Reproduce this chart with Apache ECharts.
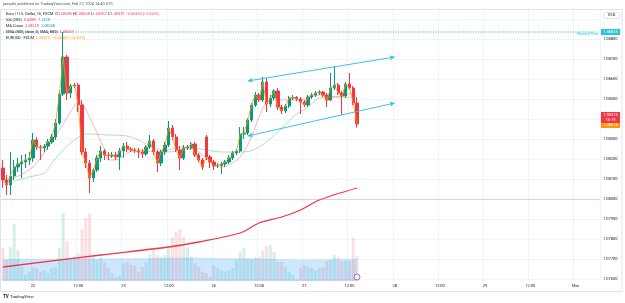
<!DOCTYPE html>
<html>
<head>
<meta charset="utf-8">
<script src="https://cdn.jsdelivr.net/npm/echarts@6/dist/echarts.min.js"></script>
<style>
html, body { margin: 0; padding: 0; background: #fff; }
#chart { width: 625px; height: 303px; }
</style>
</head>
<body>
<div id="chart"></div>
<script>
// hourly EURUSD bars, Feb 21 16:00 .. Feb 27 14:00 (weekend skipped)
const opens = [
  1.08155, 1.08095, 1.08070, 1.08115, 1.08160, 1.08175, 1.08185, 1.08195, 1.08205, 1.08295,
  1.08260, 1.08255, 1.08265, 1.08285, 1.08310, 1.08380, 1.08525, 1.08710, 1.08530, 1.08565,
  1.08570, 1.08470, 1.08235, 1.08180, 1.08105, 1.08145, 1.08205, 1.08240, 1.08220, 1.08215,
  1.08220, 1.08210, 1.08240, 1.08265, 1.08250, 1.08245, 1.08240, 1.08235, 1.08225, 1.08260,
  1.08290, 1.08235, 1.08180, 1.08235, 1.08270, 1.08355, 1.08310, 1.08245, 1.08205, 1.08255,
  1.08255, 1.08275, 1.08220, 1.08195, 1.08310, 1.08210, 1.08185, 1.08165, 1.08168, 1.08175,
  1.08185, 1.08205, 1.08230, 1.08240, 1.08325, 1.08330, 1.08395, 1.08470, 1.08520, 1.08495,
  1.08585, 1.08475, 1.08505, 1.08540, 1.08460, 1.08440, 1.08465, 1.08505, 1.08508, 1.08500,
  1.08485, 1.08470, 1.08510, 1.08520, 1.08530, 1.08535, 1.08520, 1.08495, 1.08555, 1.08570,
  1.08530, 1.08515, 1.08575, 1.08555, 1.08480
];
const closes = [
  1.08095, 1.08070, 1.08115, 1.08160, 1.08175, 1.08185, 1.08195, 1.08205, 1.08295, 1.08260,
  1.08255, 1.08265, 1.08285, 1.08310, 1.08380, 1.08525, 1.08710, 1.08530, 1.08565, 1.08570,
  1.08470, 1.08235, 1.08180, 1.08105, 1.08145, 1.08205, 1.08240, 1.08220, 1.08215, 1.08220,
  1.08210, 1.08240, 1.08265, 1.08250, 1.08245, 1.08240, 1.08235, 1.08225, 1.08260, 1.08290,
  1.08235, 1.08180, 1.08235, 1.08270, 1.08355, 1.08310, 1.08245, 1.08205, 1.08255, 1.08260,
  1.08275, 1.08220, 1.08195, 1.08160, 1.08210, 1.08185, 1.08165, 1.08168, 1.08175, 1.08185,
  1.08205, 1.08230, 1.08240, 1.08325, 1.08330, 1.08395, 1.08470, 1.08520, 1.08495, 1.08585,
  1.08475, 1.08505, 1.08540, 1.08460, 1.08440, 1.08465, 1.08505, 1.08508, 1.08500, 1.08485,
  1.08470, 1.08510, 1.08520, 1.08530, 1.08535, 1.08520, 1.08495, 1.08555, 1.08570, 1.08530,
  1.08515, 1.08575, 1.08555, 1.08480, 1.08375
];
const lows = [
  1.08055, 1.08020, 1.08020, 1.08095, 1.08135, 1.08105, 1.08155, 1.08170, 1.08185, 1.08245,
  1.08195, 1.08235, 1.08245, 1.08275, 1.08295, 1.08370, 1.08515, 1.08495, 1.08505, 1.08555,
  1.08435, 1.08220, 1.08155, 1.08030, 1.08085, 1.08135, 1.08185, 1.08195, 1.08195, 1.08205,
  1.08195, 1.08145, 1.08205, 1.08235, 1.08235, 1.08230, 1.08205, 1.08205, 1.08215, 1.08250,
  1.08220, 1.08135, 1.08165, 1.08220, 1.08260, 1.08295, 1.08235, 1.08145, 1.08195, 1.08245,
  1.08245, 1.08210, 1.08185, 1.08145, 1.08195, 1.08155, 1.08145, 1.08155, 1.08125, 1.08160,
  1.08175, 1.08195, 1.08220, 1.08230, 1.08300, 1.08320, 1.08385, 1.08460, 1.08485, 1.08485,
  1.08435, 1.08460, 1.08495, 1.08445, 1.08425, 1.08430, 1.08455, 1.08495, 1.08490, 1.08425,
  1.08460, 1.08460, 1.08500, 1.08510, 1.08520, 1.08510, 1.08460, 1.08490, 1.08545, 1.08520,
  1.08420, 1.08505, 1.08545, 1.08470, 1.08357
];
const highs = [
  1.08195, 1.08120, 1.08235, 1.08195, 1.08205, 1.08220, 1.08225, 1.08235, 1.08330, 1.08310,
  1.08270, 1.08275, 1.08300, 1.08325, 1.08400, 1.08545, 1.08835, 1.08720, 1.08575, 1.08580,
  1.08580, 1.08495, 1.08255, 1.08195, 1.08155, 1.08220, 1.08265, 1.08250, 1.08235, 1.08235,
  1.08235, 1.08255, 1.08280, 1.08285, 1.08260, 1.08255, 1.08255, 1.08250, 1.08270, 1.08320,
  1.08300, 1.08245, 1.08245, 1.08285, 1.08390, 1.08370, 1.08325, 1.08265, 1.08270, 1.08270,
  1.08285, 1.08285, 1.08230, 1.08205, 1.08320, 1.08220, 1.08195, 1.08180, 1.08185, 1.08195,
  1.08220, 1.08240, 1.08250, 1.08360, 1.08360, 1.08405, 1.08480, 1.08535, 1.08530, 1.08610,
  1.08605, 1.08520, 1.08550, 1.08555, 1.08470, 1.08475, 1.08515, 1.08520, 1.08515, 1.08510,
  1.08495, 1.08520, 1.08530, 1.08540, 1.08545, 1.08540, 1.08530, 1.08630, 1.08665, 1.08580,
  1.08540, 1.08585, 1.08630, 1.08565, 1.08509
];
// volume in thousands
const volumesK = [
  10.7, 6.8, 11, 18.5, 10, 4.5, 2, 3, 4.5, 4.2,
  3, 3.5, 2.6, 4.2, 4.5, 10.7, 22, 13, 6.8, 7.8,
  9, 16.8, 20.4, 21.7, 8.4, 6.8, 7.8, 6.2, 4.2, 2.6,
  1.3, 1.9, 5.8, 6.2, 5.2, 4.9, 3, 4.5, 6.2, 8.7,
  10.3, 8.4, 7.8, 8.4, 11, 14.2, 16, 16.8, 14.3, 11,
  7.8, 5.8, 4.5, 3, 2.6, 1.3, 5.2, 4.2, 3.5, 3,
  3.5, 4.2, 6.8, 9.4, 10.7, 7.4, 7.1, 7.8, 7.8, 10,
  11.3, 11.7, 9.4, 6.2, 6.2, 4.5, 3, 1.9, 0.5, 4.2,
  5.2, 4.5, 4.2, 3.5, 4.2, 4.5, 6.5, 6.8, 8.4, 7.8,
  6.5, 6.8, 6.5, 14, 8
];
// indicator lines, read at a few bars: [bar index, value]
const volMaK = [[0, 7.1], [30, 7.3], [50, 7.6], [65, 7.3], [80, 7.0], [94, 7.13]];
const fastMa = [[1, 1.0810], [3, 1.08105], [8, 1.0816], [12, 1.0826], [15, 1.08345], [18, 1.08435], [20, 1.08485],
  [21, 1.0848], [23, 1.0841], [25, 1.0833], [27, 1.08245], [28, 1.08195], [30, 1.08195], [33, 1.0823],
  [36, 1.08245], [41, 1.08235], [44, 1.08245], [47, 1.0826], [50, 1.0826], [53, 1.0822], [58, 1.0816],
  [60, 1.0817], [63, 1.0821], [66, 1.0831], [68, 1.0841], [70, 1.0848], [74, 1.08495], [79, 1.08495],
  [84, 1.0852], [89, 1.0851], [93, 1.0853], [94, 1.08519]];
const slowMa = [[1, 1.0808], [7, 1.0811], [11, 1.0813], [13, 1.0818], [16, 1.08245], [19, 1.08295], [21, 1.0832],
  [22, 1.08325], [28, 1.0832], [33, 1.08315], [36, 1.08295], [40, 1.0826], [44, 1.08235], [47, 1.08245],
  [50, 1.08255], [58, 1.08235], [64, 1.08235], [68, 1.0826], [73, 1.08335], [77, 1.0841], [81, 1.0846],
  [84, 1.08505], [88, 1.0851], [94, 1.08508]];
const sma800 = [[0, 1.0766], [26, 1.0772], [44, 1.0776], [52, 1.07785], [63, 1.0783], [68, 1.0788],
  [74, 1.0791], [79, 1.07945], [84, 1.07995], [94, 1.08055]];
const channelUpper = [[65, 1.0859], [104, 1.0871]];
const channelLower = [[65, 1.08315], [104, 1.0848]];
const pivotLevel = 1.08835;
const lastClose = 1.08375;

// trading sessions: [day label, first hour, last hour]
const sessionDays = [
  ['21', 16, 23], ['22', 0, 23], ['23', 0, 21], ['25', 22, 23],
  ['26', 0, 23], ['27', 0, 23], ['28', 0, 23], ['29', 0, 23], ['Mar', 0, 6]
];
const hours = [];
sessionDays.forEach(([d, h0, h1]) => {
  for (let h = h0; h <= h1; h++) hours.push(d + ' ' + String(h).padStart(2, '0') + ':00');
});
const isTick = (i, v) => /( 00:00| 12:00)$/.test(v);
const tickText = v => v.endsWith(' 12:00') ? '12:00' : v.split(' ')[0];

const UP = '#089981', DOWN = '#f23645', CYAN = '#3fc1dd';
const grid = '#f0f3fa';

const option = {
  animation: false,
  textStyle: { fontFamily: 'Roboto, sans-serif' },
  grid: [
    { left: 1, right: 25, top: 9, height: 270 },
    { left: 1, right: 25, top: 200, height: 81 }
  ],
  xAxis: [
    {
      type: 'category', gridIndex: 0, data: hours, boundaryGap: true,
      axisLine: { show: false }, axisTick: { show: false }, axisLabel: { show: false },
      splitLine: { show: true, interval: isTick, lineStyle: { color: grid } }
    },
    {
      type: 'category', gridIndex: 1, data: hours,
      axisLine: { show: false }, axisTick: { show: false },
      axisLabel: { interval: isTick, formatter: tickText, fontSize: 4, color: '#131722', margin: 3 },
      splitLine: { show: true, interval: isTick, lineStyle: { color: grid } }
    }
  ],
  yAxis: [
    {
      type: 'value', gridIndex: 0, position: 'right',
      min: 1.076, max: 1.0895, interval: 0.001,
      axisLine: { show: false }, axisTick: { show: false },
      axisLabel: { fontSize: 4, color: '#131722', margin: 3,
        formatter: v => (v > 1.0885 ? '' : v.toFixed(5)) },
      splitLine: { lineStyle: { color: grid } }
    },
    { type: 'value', gridIndex: 1, min: 0, max: 26.25, show: false, splitLine: { show: false } }
  ],
  series: [
    {
      name: 'Volume', type: 'bar', xAxisIndex: 1, yAxisIndex: 1, barWidth: '80%', z: 1,
      data: volumesK.map((v, i) => ({
        value: v,
        itemStyle: { color: closes[i] >= opens[i] ? 'rgba(8,153,129,0.16)' : 'rgba(242,54,69,0.16)' }
      }))
    },
    {
      name: 'Vol MA', type: 'line', xAxisIndex: 1, yAxisIndex: 1, data: volMaK, symbol: 'none',
      lineStyle: { width: 0 }, areaStyle: { color: 'rgba(41,152,240,0.33)' }, z: 2
    },
    {
      name: 'Vol icon', type: 'scatter', xAxisIndex: 1, yAxisIndex: 1, data: [[94, 1.3]],
      symbolSize: 6, itemStyle: { color: '#fff', borderColor: '#ab47bc', borderWidth: 1 }, z: 5
    },
    {
      // monthly pivot level, dotted across the pane
      name: 'Pivot', type: 'line', xAxisIndex: 0, yAxisIndex: 0, symbol: 'none',
      data: [[0, pivotLevel], [hours.length - 1, pivotLevel]],
      lineStyle: { color: '#16b2d2', type: [1, 1.5], width: 1 }, z: 5
    },
    {
      name: 'EURUSD', type: 'candlestick', xAxisIndex: 0, yAxisIndex: 0, barWidth: '75%', z: 2,
      data: opens.map((o, i) => [o, closes[i], lows[i], highs[i]]),
      itemStyle: { color: UP, color0: DOWN, borderColor: UP, borderColor0: DOWN, borderWidth: 1 },
      markLine: {
        silent: true, symbol: 'none', label: { show: false },
        data: [
          { yAxis: lastClose, lineStyle: { color: 'rgba(242,54,69,0.22)', type: 'solid', width: 1 } },
          [{ coord: channelUpper[0], symbol: 'arrow', symbolSize: [4, 5] },
           { coord: channelUpper[1], symbol: 'arrow', symbolSize: [4, 5],
             lineStyle: { color: CYAN, width: 1, type: 'solid' } }],
          [{ coord: channelLower[0], symbol: 'arrow', symbolSize: [4, 5] },
           { coord: channelLower[1], symbol: 'arrow', symbolSize: [4, 5],
             lineStyle: { color: CYAN, width: 1, type: 'solid' } }]
        ]
      }
    },
    {
      name: 'SMA 800', type: 'line', xAxisIndex: 0, yAxisIndex: 0, data: sma800, symbol: 'none',
      smooth: 0.3, lineStyle: { color: '#f23645', width: 1.3 }, z: 3
    },
    {
      name: 'MA slow', type: 'line', xAxisIndex: 0, yAxisIndex: 0, data: slowMa, symbol: 'none',
      smooth: 0.3, lineStyle: { color: 'rgba(76,175,80,0.5)', width: 0.8 }, z: 3
    },
    {
      name: 'MA fast', type: 'line', xAxisIndex: 0, yAxisIndex: 0, data: fastMa, symbol: 'none',
      smooth: 0.3, lineStyle: { color: 'rgba(242,54,69,0.45)', width: 0.8 }, z: 3
    },
    {
      name: 'EURUSD FXCM', type: 'line', xAxisIndex: 0, yAxisIndex: 0, data: closes, symbol: 'none',
      lineStyle: { color: '#ff9800', width: 0.8 }, z: 4
    }
  ]
};

const chart = echarts.init(document.getElementById('chart'));
chart.setOption(option);

const yC = chart.convertToPixel({ yAxisIndex: 0 }, lastClose);
const yP = chart.convertToPixel({ yAxisIndex: 0 }, pivotLevel);
const fs = 3.9;
const txt = (x, y, text, extra) => ({
  type: 'text', x: x, y: y, z: 100,
  style: Object.assign({ text: text, fontSize: fs, fill: '#131722', verticalAlign: 'middle',
    fontFamily: 'Roboto, sans-serif' }, extra || {})
});
const rich = {
  r: { fill: '#f23645', fontSize: fs },
  b: { fill: '#2196f3', fontSize: fs },
  g: { fill: '#089981', fontSize: fs },
  o: { fill: '#ff9800', fontSize: fs }
};

chart.setOption({
  graphic: [
    { type: 'rect', z: 90, shape: { x: 0.5, y: 9.5, width: 621.5, height: 282 },
      style: { fill: 'none', stroke: '#e0e3eb', lineWidth: 1 } },
    txt(3, 4.5, 'jamptfx published on TradingView.com, Feb 27, 2024 14:40 UTC', { fill: '#50535e' }),
    txt(6, 14, 'Euro / U.S. Dollar, 1h, FXCM  O{r|1.08480} H{r|1.08509} L{r|1.08357} C{r|1.08375} {r|\u22120.00105 (\u22120.10%)}', { rich: rich }),
    txt(6, 20, 'Vol (200)  {r|6.648K}  {b|7.132K}', { rich: rich }),
    txt(6, 26, 'MA Cross  {r|1.08519}  {g|1.08508}', { rich: rich }),
    txt(6, 32, 'SMA (800, close, 0, SMA, 800)  {r|1.08057}', { rich: rich }),
    txt(6, 38, 'EURUSD \u00b7 FXCM  {o|1.08375  \u22120.00105 (\u22120.10%)}', { rich: rich }),
    // USD box
    { type: 'rect', z: 95, shape: { x: 603.5, y: 12.5, width: 16, height: 6, r: 1 },
      style: { fill: '#fff', stroke: '#e0e3eb', lineWidth: 1 } },
    txt(611.5, 15.5, 'USD', { align: 'center' }),
    // pivot tag
    { type: 'rect', z: 95, shape: { x: 601, y: yP - 3, width: 19, height: 6 }, style: { fill: '#26c6da' } },
    txt(610.5, yP, '1.08835', { align: 'center', fill: '#fff' }),
    txt(598, yP + 2.5, 'Monthly Pivot', { align: 'right', fill: '#26c6da', fontSize: 3.4 }),
    // last price tags
    { type: 'rect', z: 95, shape: { x: 601, y: yC - 12, width: 19, height: 11 }, style: { fill: '#f23645' } },
    txt(610.5, yC - 9, '1.08375', { align: 'center', fill: '#fff' }),
    txt(610.5, yC - 4, '15:19', { align: 'center', fill: '#fff' }),
    { type: 'rect', z: 95, shape: { x: 601, y: yC - 1, width: 19, height: 5 }, style: { fill: '#ff9800' } },
    txt(610.5, yC + 1.5, '1.08375', { align: 'center', fill: '#fff' }),
    // logo
    txt(3, 297, 'TV', { fontWeight: 'bold', fontSize: 4.5 }),
    txt(10, 297, 'TradingView', { fontSize: 4.3 })
  ]
});
</script>
</body>
</html>
